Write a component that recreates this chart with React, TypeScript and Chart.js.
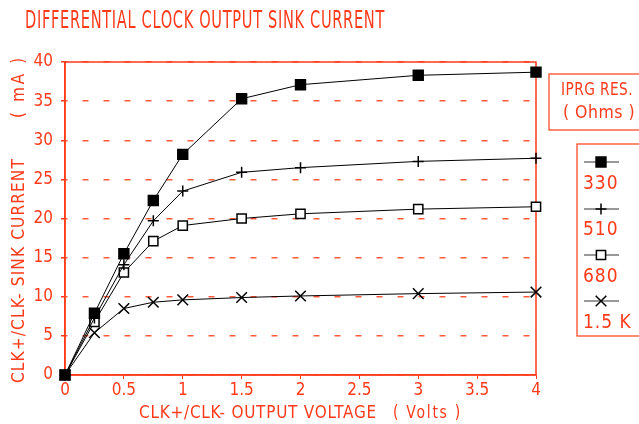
import React, { useEffect, useRef } from "react";
import { Chart, registerables } from "chart.js";
Chart.register(...registerables);

const chartTitle = "DIFFERENTIAL CLOCK OUTPUT SINK CURRENT";
const xTitleMain = "CLK+/CLK- OUTPUT VOLTAGE";
const xTitleUnit = "( Volts )";
const yTitleMain = "CLK+/CLK- SINK CURRENT";
const yTitleUnit = "( mA )";
const legendHeader = ["IPRG RES.", "( Ohms )"];

const voltages = [0, 0.25, 0.5, 0.75, 1, 1.5, 2, 3, 4];
const sink330 = [0, 7.9, 15.5, 22.3, 28.2, 35.3, 37.1, 38.3, 38.7];
const sink510 = [0, 7.3, 14.1, 19.7, 23.5, 25.9, 26.5, 27.3, 27.7];
const sink680 = [0, 6.8, 13.1, 17.1, 19.1, 20.0, 20.6, 21.2, 21.5];
const sink1k5 = [0, 5.4, 8.5, 9.3, 9.6, 9.9, 10.1, 10.4, 10.6];
const seriesLabels = ["330", "510", "680", "1.5 K"];
const xTickValues = [0, 0.5, 1, 1.5, 2, 2.5, 3, 3.5, 4];
const yTickValues = [0, 5, 10, 15, 20, 25, 30, 35, 40];

const RED = "#ff3a1a";
const GRID = "#ff5a3c";
const FONT = "'DejaVu Sans Condensed', 'DejaVu Sans', sans-serif";

const markers = [
  { style: "rect", radius: 7, fill: "#000000" },
  { style: "cross", radius: 5.5, fill: "#000000" },
  { style: "rect", radius: 6.5, fill: "#ffffff" },
  { style: "crossRot", radius: 7.5, fill: "#000000" },
];

function drawMarker(ctx: CanvasRenderingContext2D, style: string, r: number, x: number, y: number) {
  ctx.beginPath();
  if (style === "rect") {
    const s = Math.SQRT1_2 * r;
    ctx.rect(x - s, y - s, 2 * s, 2 * s);
    ctx.fill();
    ctx.stroke();
  } else if (style === "cross") {
    ctx.moveTo(x - r, y);
    ctx.lineTo(x + r, y);
    ctx.moveTo(x, y - r);
    ctx.lineTo(x, y + r);
    ctx.stroke();
  } else {
    const o = Math.SQRT1_2 * r;
    ctx.moveTo(x - o, y - o);
    ctx.lineTo(x + o, y + o);
    ctx.moveTo(x - o, y + o);
    ctx.lineTo(x + o, y - o);
    ctx.stroke();
  }
}

const textPlugin = {
  id: "textPlugin",
  beforeDatasetsDraw(chart: any) {
    const ctx = chart.ctx;
    const a = chart.chartArea;
    ctx.save();
    ctx.strokeStyle = RED;
    ctx.lineWidth = 1.5;
    ctx.strokeRect(a.left, a.top, a.right - a.left, a.bottom - a.top);
    ctx.restore();
  },
  afterDraw(chart: any) {
    const ctx = chart.ctx;
    ctx.save();
    ctx.fillStyle = RED;
    ctx.textBaseline = "middle";
    // title
    ctx.font = `24px ${FONT}`;
    ctx.textAlign = "left";
    (ctx as any).letterSpacing = "1px";
    ctx.fillText(chartTitle, 25, 22, 360);

    // x title
    (ctx as any).letterSpacing = "0.8px";
    ctx.font = `18px ${FONT}`;
    ctx.fillText(xTitleMain, 139, 413, 238);
    (ctx as any).letterSpacing = "2px";
    ctx.fillText(xTitleUnit, 393, 413, 69);

    // y title (rotated)
    (ctx as any).letterSpacing = "1.2px";
    ctx.save();
    ctx.translate(19, 383);
    ctx.rotate(-Math.PI / 2);
    ctx.fillText(yTitleMain, 0, 0, 225);
    ctx.restore();
    (ctx as any).letterSpacing = "3px";
    ctx.save();
    ctx.translate(19, 118);
    ctx.rotate(-Math.PI / 2);
    ctx.fillText(yTitleUnit, 0, 0, 63);
    ctx.restore();

    // legend header box
    (ctx as any).letterSpacing = "0.5px";
    ctx.strokeStyle = RED;
    ctx.lineWidth = 1.2;
    ctx.strokeRect(549, 74, 100, 56);
    ctx.font = `18px ${FONT}`;
    ctx.textAlign = "center";
    ctx.fillText(legendHeader[0], 597, 90, 72);
    ctx.fillText(legendHeader[1], 599, 113, 72);

    // legend entries box
    ctx.strokeRect(577, 144, 80, 192);
    const ds = chart.data.datasets;
    const rowY = [162, 209, 255, 301];
    const labelY = [184, 230, 277, 323];
    ds.forEach((d: any, i: number) => {
      ctx.strokeStyle = "#333333";
      ctx.lineWidth = 1;
      ctx.beginPath();
      ctx.moveTo(584, rowY[i]);
      ctx.lineTo(619, rowY[i]);
      ctx.stroke();
      ctx.fillStyle = d.pointBackgroundColor;
      ctx.strokeStyle = "#000000";
      ctx.lineWidth = 1.5;
      drawMarker(ctx, d.pointStyle, d.pointRadius, 601, rowY[i]);
      ctx.fillStyle = RED;
      ctx.font = `19px ${FONT}`;
      ctx.textAlign = "left";
      (ctx as any).letterSpacing = "1px";
      ctx.fillText(seriesLabels[i], 583, labelY[i]);
    });
    ctx.restore();
  },
};

export default function App() {
  const ref = useRef<HTMLCanvasElement | null>(null);
  useEffect(() => {
    if (!ref.current) return;
    const series = [sink330, sink510, sink680, sink1k5];
    const chart = new Chart(ref.current, {
      type: "line",
      data: {
        datasets: series.map((vals, i) => ({
          label: seriesLabels[i],
          data: voltages.map((v, j) => ({ x: v, y: vals[j] })),
          borderColor: "#000000",
          borderWidth: 1,
          pointStyle: markers[i].style as any,
          pointRadius: markers[i].radius,
          pointBackgroundColor: markers[i].fill,
          pointBorderColor: "#000000",
          pointBorderWidth: 1.5,
          tension: 0,
          fill: false,
          clip: false as any,
        })),
      },
      options: {
        animation: false,
        responsive: false,
        maintainAspectRatio: false,
        layout: { padding: { top: 62, right: 103, left: 0, bottom: 0 } },
        plugins: {
          legend: { display: false },
          title: { display: false },
          tooltip: { enabled: false },
        },
        scales: {
          x: {
            type: "linear",
            min: 0,
            max: 4,
            afterBuildTicks: (s: any) => {
              s.ticks = xTickValues.map((v) => ({ value: v }));
            },
            afterFit: (s: any) => {
              s.height = 49;
            },
            ticks: {
              color: RED,
              font: { family: FONT, size: 17 },
              padding: 1,
              maxRotation: 0,
              callback: (v: any) => String(v),
            },
            grid: {
              drawOnChartArea: false,
              drawTicks: true,
              tickLength: 4,
              tickColor: RED,
              color: RED,
            },
            border: { display: true, color: RED, width: 1.5 },
          },
          y: {
            type: "linear",
            min: 0,
            max: 40,
            afterBuildTicks: (s: any) => {
              s.ticks = yTickValues.map((v) => ({ value: v }));
            },
            afterFit: (s: any) => {
              s.width = 65;
            },
            ticks: {
              color: RED,
              font: { family: FONT, size: 17 },
              padding: 8,
              callback: (v: any) => String(v),
            },
            grid: {
              color: GRID,
              lineWidth: 1.5,
              drawTicks: true,
              tickLength: 4,
              tickColor: RED,
              tickBorderDash: [],
            },
            border: { display: true, color: RED, width: 1.5, dash: [6, 15], dashOffset: 4 },
          },
        },
      },
      plugins: [textPlugin],
    });
    return () => chart.destroy();
  }, []);
  return (
    <div style={{ position: "fixed", left: 0, top: 0, width: 639, height: 424, background: "#ffffff" }}>
      <canvas ref={ref} width={639} height={424} style={{ width: 639, height: 424 }} />
    </div>
  );
}
